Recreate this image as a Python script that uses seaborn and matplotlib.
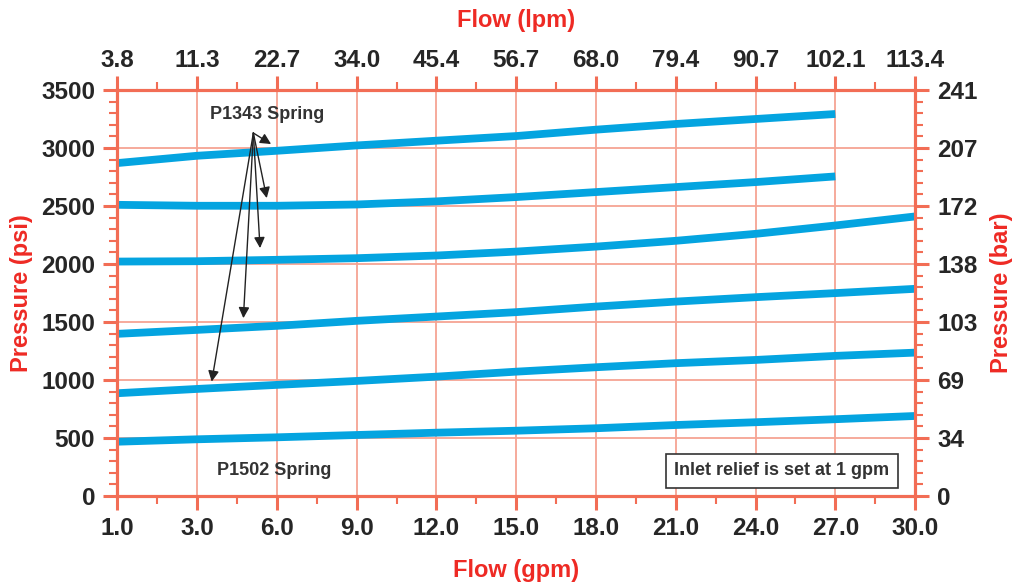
import numpy as np
import pandas as pd
import seaborn as sns
import matplotlib.pyplot as plt

# 流量刻度 (gpm 底部, lpm 顶部), 等间距
gpm_labels = ["1.0", "3.0", "6.0", "9.0", "12.0", "15.0", "18.0", "21.0", "24.0", "27.0", "30.0"]
lpm_labels = ["3.8", "11.3", "22.7", "34.0", "45.4", "56.7", "68.0", "79.4", "90.7", "102.1", "113.4"]
psi_ticks = [0, 500, 1000, 1500, 2000, 2500, 3000, 3500]
bar_labels = ["0", "34", "69", "103", "138", "172", "207", "241"]

# 各弹簧曲线 (psi), 按刻度位置读数
curve1 = [2870, 2933, 2976, 3022, 3063, 3103, 3158, 3207, 3250, 3293]
curve2 = [2510, 2502, 2502, 2513, 2540, 2577, 2620, 2663, 2706, 2755]
curve3 = [2021, 2024, 2036, 2050, 2073, 2107, 2150, 2200, 2260, 2332, 2410]
curve4 = [1398, 1432, 1467, 1510, 1547, 1585, 1633, 1676, 1714, 1749, 1786]
curve5 = [886, 923, 958, 992, 1029, 1072, 1110, 1145, 1173, 1208, 1236]
curve6 = [468, 489, 506, 526, 546, 563, 584, 612, 636, 662, 690]

curves = [curve1, curve2, curve3, curve4, curve5, curve6]
rows = []
for k, c in enumerate(curves):
    for i, v in enumerate(c):
        rows.append({"curve": k, "pos": i, "psi": v})
data = pd.DataFrame(rows)

sns.set_style("white")
plt.rcParams['font.family'] = ['Liberation Sans', 'DejaVu Sans']
plt.rcParams['font.weight'] = 'bold'

red = '#ee2a24'
spine_c = '#f26d55'
grid_c = '#f6a493'
blue = '#04a4e0'

fig = plt.figure(figsize=(10.15, 5.87), dpi=100)
ax = fig.add_axes([0.1156, 0.155, 0.786, 0.6917])

ax.set_xlim(0, 10)
ax.set_ylim(0, 3500)
ax.set_xticks(range(11))
ax.set_xticks(np.arange(0.5, 10, 1), minor=True)
ax.set_yticks(psi_ticks)
ax.set_yticks(np.arange(0, 3501, 100), minor=True)
ax.grid(True, which='major', color=grid_c, lw=1.3, zorder=0)
ax.set_axisbelow(True)

sns.lineplot(data=data, x='pos', y='psi', hue='curve', palette=[blue] * 6,
             legend=False, lw=5.6, ax=ax, zorder=3)
for line in ax.get_lines():
    line.set_solid_capstyle('butt')

tick_fs = 17.5
ax.set_xticklabels(gpm_labels, fontsize=tick_fs, fontweight='bold')
ax.set_yticklabels([str(v) for v in psi_ticks], fontsize=tick_fs, fontweight='bold')
ax.set_xlabel('Flow (gpm)', color=red, fontsize=17, fontweight='bold', labelpad=14)
ax.set_ylabel('Pressure (psi)', color=red, fontsize=17, fontweight='bold', labelpad=6)

top = ax.twiny()
top.set_xlim(0, 10)
top.set_xticks(range(11))
top.set_xticks(np.arange(0.5, 10, 1), minor=True)
top.set_xticklabels(lpm_labels, fontsize=tick_fs, fontweight='bold')
top.set_xlabel('Flow (lpm)', color=red, fontsize=17, fontweight='bold', labelpad=16)

right = ax.twinx()
right.set_ylim(0, 3500)
right.set_yticks(psi_ticks)
right.set_yticks(np.arange(0, 3501, 100), minor=True)
right.set_yticklabels(bar_labels, fontsize=tick_fs, fontweight='bold')
right.set_ylabel('Pressure (bar)', color=red, fontsize=17, fontweight='bold', labelpad=9)
right.grid(False)
top.grid(False)

for a in (ax, top, right):
    for s in a.spines.values():
        s.set_color(spine_c)
        s.set_linewidth(2.2)
    a.tick_params(which='major', length=10, width=2.2, color=spine_c, pad=6)
    a.tick_params(which='minor', length=6, width=1.5, color=spine_c)
top.tick_params(which='major', pad=3)
ax.tick_params(axis='x', which='major', pad=5)

# 注释
ax.text(1.88, 3285, 'P1343 Spring', fontsize=13, fontweight='bold', color='#333333',
        ha='center', va='center', zorder=5)
origin = (1.705, 3129)
tips = [(1.927, 3034), (1.873, 2568), (1.789, 2137), (1.580, 1533), (1.183, 986)]
for t in tips:
    ax.annotate('', xy=t, xytext=origin,
                arrowprops=dict(arrowstyle='-|>', color='#222222', lw=1.0,
                                mutation_scale=16, shrinkA=0, shrinkB=0),
                zorder=6)
ax.text(1.965, 224, 'P1502 Spring', fontsize=13, fontweight='bold', color='#333333',
        ha='center', va='center', zorder=5)
ax.text(8.33, 216, 'Inlet relief is set at 1 gpm', fontsize=13, fontweight='bold',
        color='#333333', ha='center', va='center', zorder=5,
        bbox=dict(boxstyle='square,pad=0.45', fc='white', ec='#333333', lw=1.2))

fig.savefig('out.png', dpi=100)
